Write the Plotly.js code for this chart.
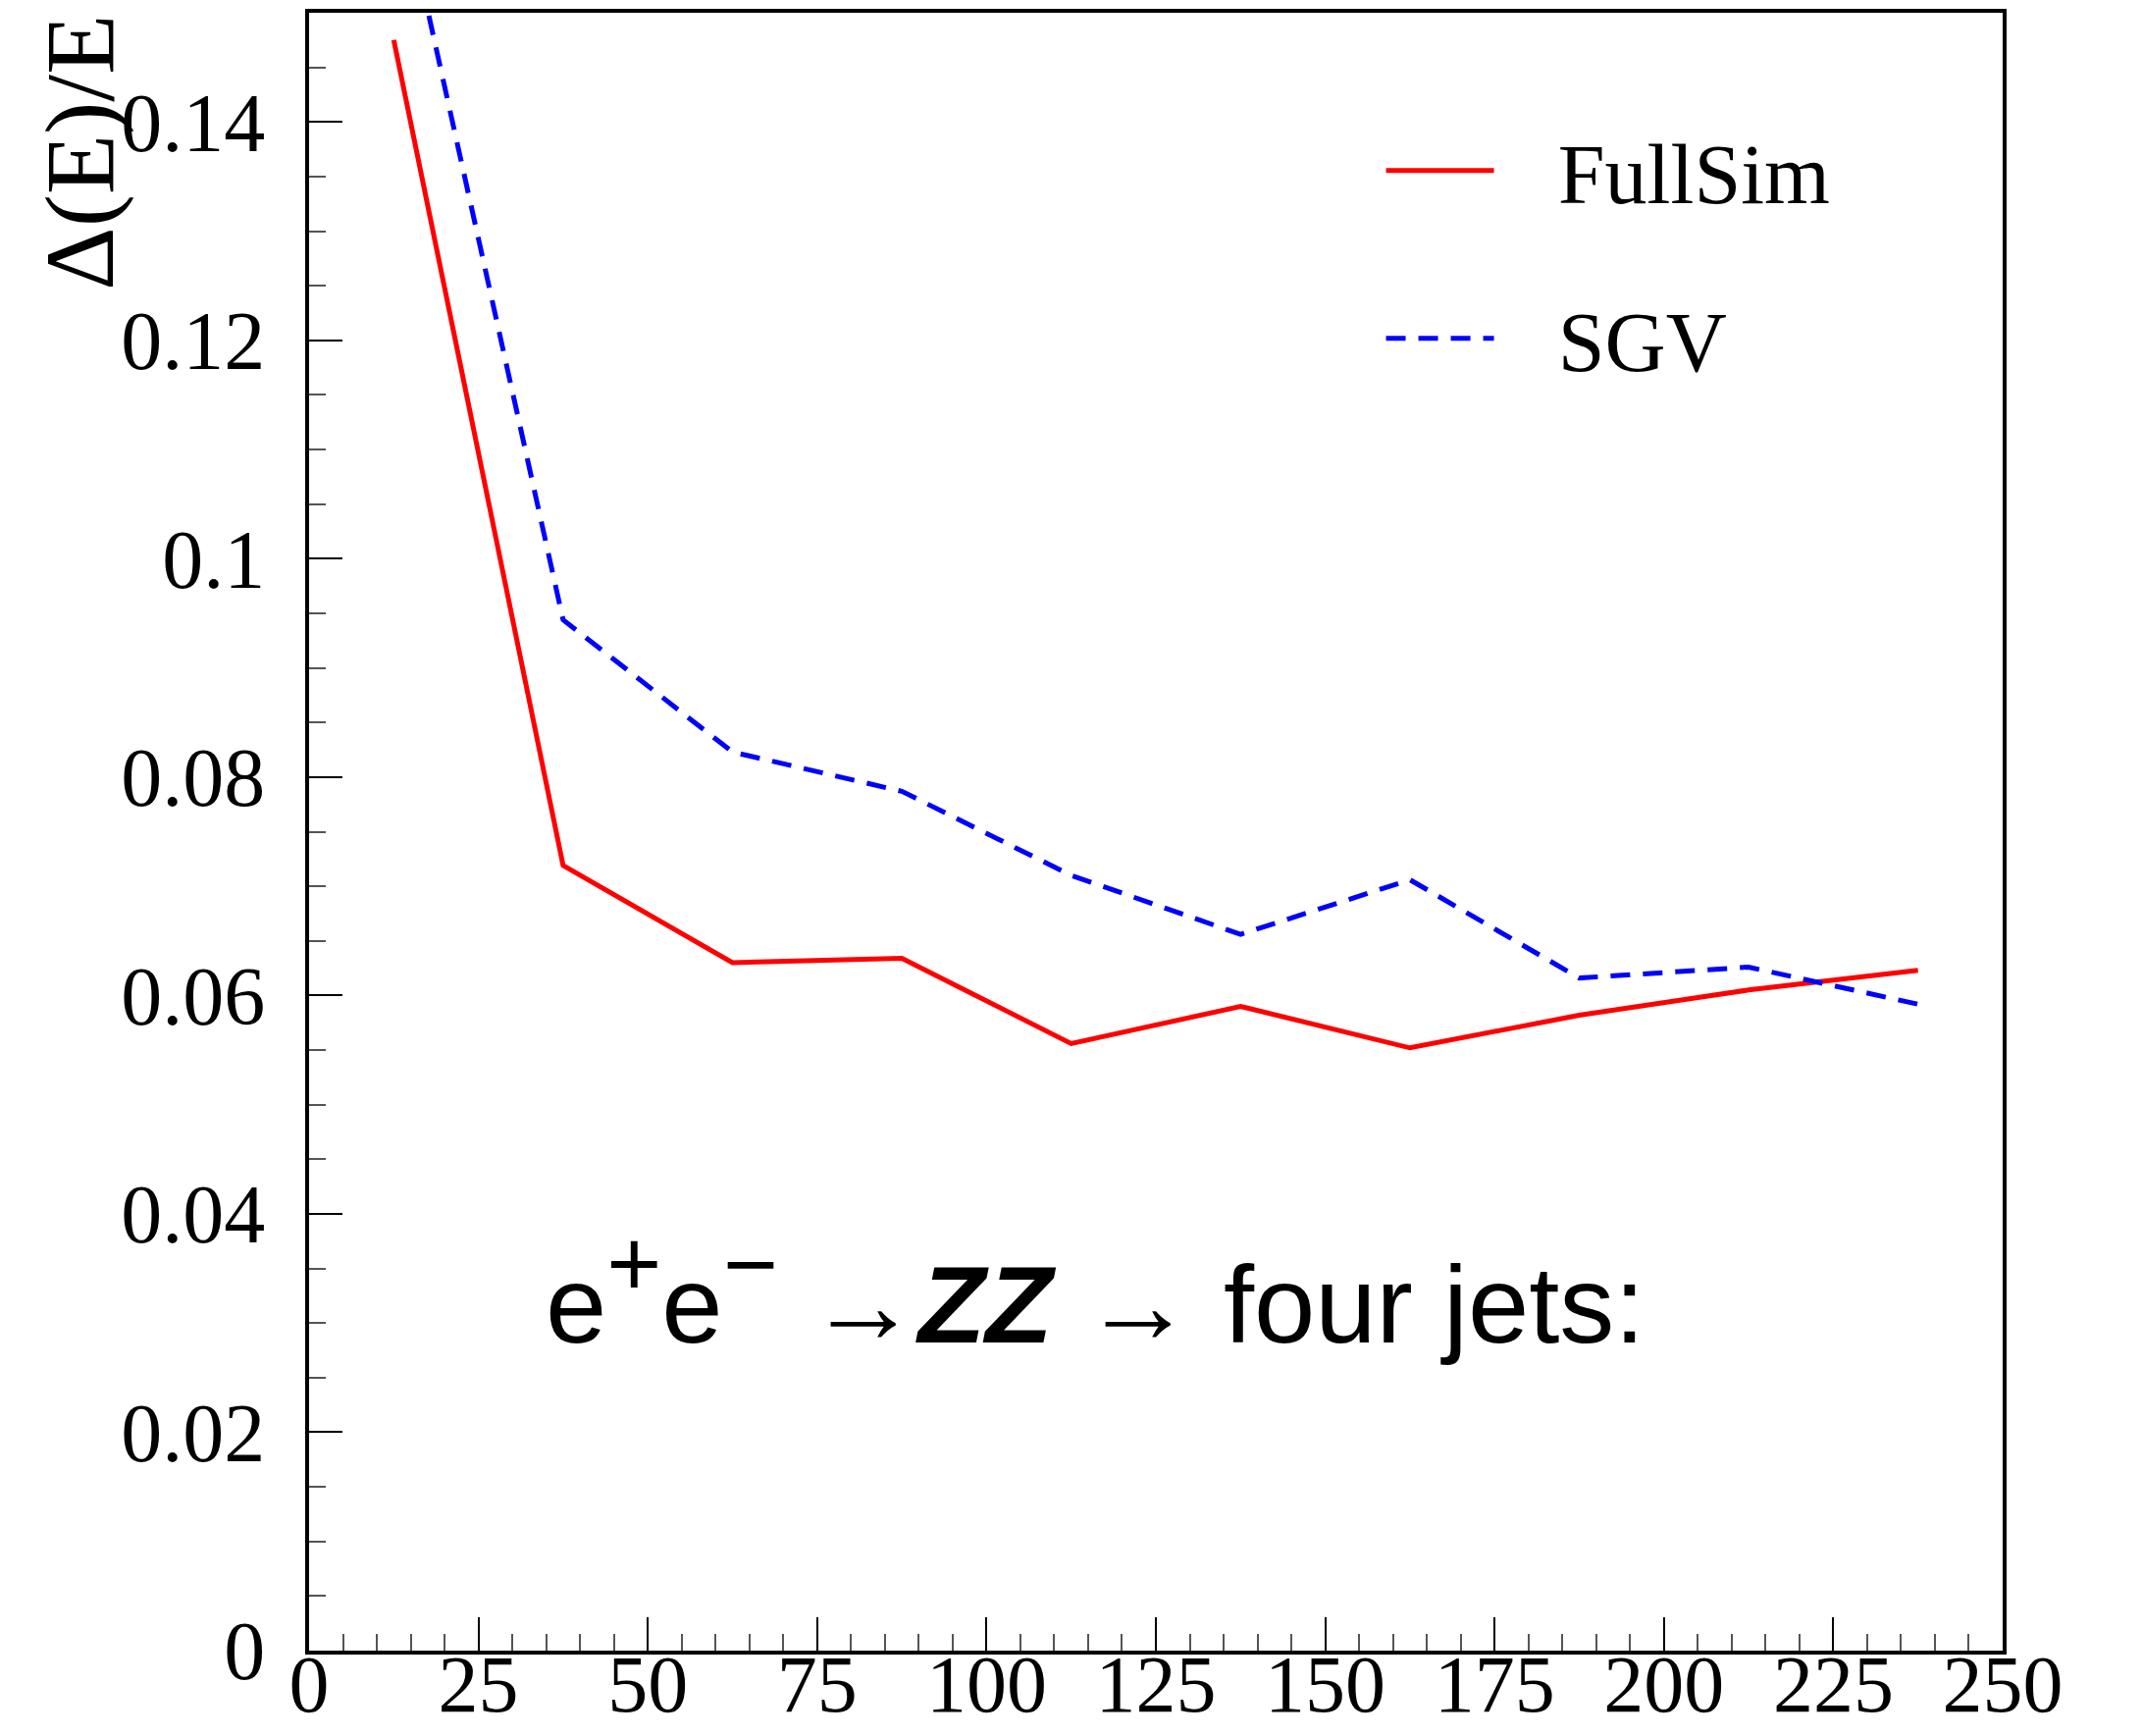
<!DOCTYPE html>
<html>
<head>
<meta charset="utf-8">
<script src="https://cdn.plot.ly/plotly-3.0.1.min.js"></script>
<style>html,body{margin:0;padding:0;background:#fff;}#chart{width:2183px;height:1769px;}</style>
</head>
<body>
<div id="chart"></div>
<script>
// Bin centres (energy)
const energy = [12.5, 37.5, 62.5, 87.5, 112.5, 137.5, 162.5, 187.5, 212.5, 237.5];
// Relative energy resolution
const fullSim = [0.1475, 0.0719, 0.0630, 0.0634, 0.0556, 0.0590, 0.0552, 0.0582, 0.0605, 0.0623];
const sgv     = [0.1642, 0.0944, 0.0823, 0.0787, 0.0710, 0.0656, 0.0706, 0.0616, 0.0626, 0.0592];
const seriesNames = ["FullSim", "SGV"];
const yTitle = "Δ(E)/E";
const processLabel = "e<sup><span style='font-size:96px'>+</span></sup>e<sup><span style='font-size:96px'>−</span></sup> →<b><i>ZZ</i></b> → four jets:";

const serif = "Liberation Serif, Times New Roman, serif";
const sans = "Liberation Sans, Arial, sans-serif";
const pad = "\u2002\u2009";

const traces = [
  {x: energy, y: fullSim, name: pad + seriesNames[0], type: "scatter", mode: "lines",
   line: {color: "#ff0000", width: 5}, legendgroup: "a"},
  {x: energy, y: sgv, name: pad + seriesNames[1], type: "scatter", mode: "lines",
   line: {color: "#0000ff", width: 5, dash: "20px,13px"}, legendgroup: "b"}
];

const axisCommon = {
  showline: true, mirror: true, linecolor: "#000", linewidth: 4,
  showgrid: false, zeroline: false,
  ticks: "inside", ticklen: 34, tickwidth: 2, tickcolor: "#000",
  tickfont: {family: serif, size: 84, color: "#000"}
};

const layout = {
  width: 2183, height: 1769,
  margin: {l: 315, r: 142, t: 13, b: 87},
  paper_bgcolor: "#fff", plot_bgcolor: "#fff",
  showlegend: true,
  legend: {
    x: 0.633, y: 0.941, xanchor: "left", yanchor: "top",
    font: {family: serif, size: 86, color: "#000"},
    bgcolor: "rgba(0,0,0,0)", borderwidth: 0,
    itemwidth: 110, tracegroupgap: 56, traceorder: "grouped"
  },
  xaxis: Object.assign({}, axisCommon, {
    range: [0, 250], dtick: 25, tick0: 0,
    tickfont: {family: serif, size: 82, color: "#000"},
    ticklabelstandoff: -40,
    minor: {dtick: 5, ticks: "inside", ticklen: 17, tickwidth: 2, tickcolor: "#555"}
  }),
  yaxis: Object.assign({}, axisCommon, {
    range: [0, 0.15], dtick: 0.02, tick0: 0,
    ticklabelstandoff: 24,
    minor: {dtick: 0.005, ticks: "inside", ticklen: 17, tickwidth: 2, tickcolor: "#555"}
  }),
  annotations: [
    {text: yTitle, xref: "paper", yref: "paper", x: -0.1355, y: 1.0,
     xanchor: "center", yanchor: "top", textangle: -90, showarrow: false,
     font: {family: serif, size: 100, color: "#000"}},
    {text: processLabel, xref: "x", yref: "y", x: 116, y: 0.0332,
     xanchor: "center", yanchor: "middle", showarrow: false,
     font: {family: sans, size: 112, color: "#000"}}
  ]
};

Plotly.newPlot("chart", traces, layout, {displayModeBar: false, responsive: false});
</script>
</body>
</html>
